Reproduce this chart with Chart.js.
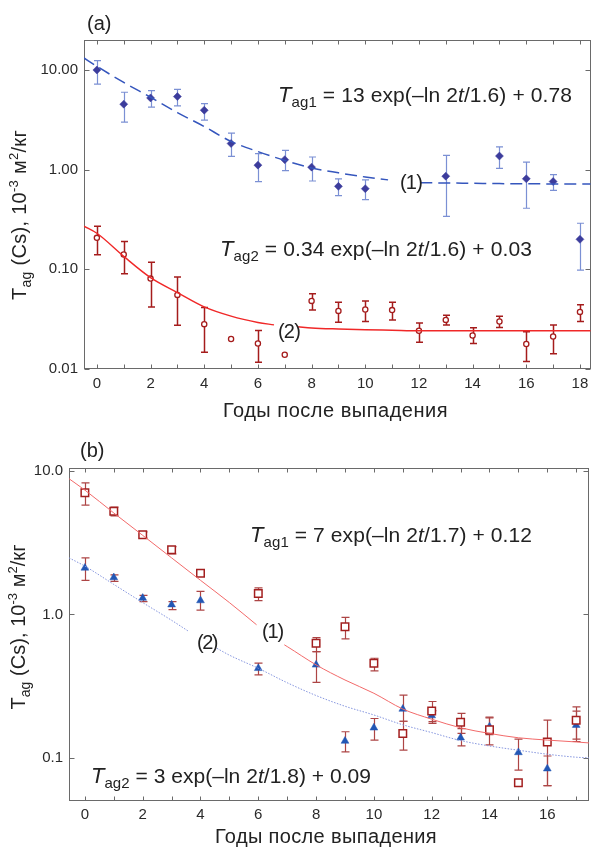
<!DOCTYPE html>
<html><head><meta charset="utf-8">
<script src="https://cdn.jsdelivr.net/npm/chart.js@4.4.0/dist/chart.umd.min.js"></script>
<style>
html,body{margin:0;padding:0;background:#fff;}
#wrap{position:relative;width:596px;height:847px;overflow:hidden;}
canvas{position:absolute;left:0;}
#ca{top:0;} #cb{top:425px;}
</style></head><body>
<div id="wrap"><canvas id="ca" width="596" height="425"></canvas><canvas id="cb" width="596" height="422"></canvas></div>
<script>
// ---------- Panel (a) data ----------
const aTickX = [0,2,4,6,8,10,12,14,16,18];
const aMinorX = [0,1,2,3,4,5,6,7,8,9,10,11,12,13,14,15,16,17,18];
const aTickY = [0.01,0.1,1,10];
const aTickYLabels = ['0.01','0.10','1.00','10.00'];

const a1X  = [0,1,2,3,4,5,6,7,8,9,10,13,15,16,17,18];
const a1Y  = [10.0,4.54,5.25,5.41,3.95,1.83,1.11,1.26,1.06,0.68,0.645,0.86,1.37,0.81,0.76,0.20];
const a1Hi = [12.4,5.98,6.2,6.4,4.6,2.33,1.45,1.56,1.34,0.81,0.79,1.39,1.69,1.19,0.89,0.29];
const a1Lo = [7.2,3.0,4.24,4.37,3.14,1.36,0.76,0.98,0.77,0.55,0.5,0.34,1.03,0.41,0.62,0.098];

const a2X  = [0,1,2,3,4,5,6,7,8,9,10,11,12,13,14,15,16,17,18];
const a2Y  = [0.207,0.141,0.0807,0.0554,0.0282,0.020,0.018,0.0139,0.0482,0.0383,0.0395,0.039,0.0242,0.0311,0.0217,0.030,0.0178,0.0212,0.0374];
const a2Hi = [0.271,0.19,0.118,0.0838,0.0414,null,0.0244,null,0.057,0.0468,0.0482,0.0468,0.029,0.0347,0.0259,0.0339,0.0236,0.0277,0.044];
const a2Lo = [0.14,0.0905,0.042,0.0275,0.0147,null,0.0117,null,0.039,0.0295,0.030,0.0311,0.0186,0.0277,0.018,0.0261,0.0119,0.0142,0.030];

const aFit1X = [-0.48,0,1,2,3,4,5,6,7,8,9,10,10.85,11.5,12.05,13,14,15,16,17,18,18.4];
const aFit1Y = [13.2,10.9,7.5,5.33,3.74,2.71,1.92,1.52,1.24,1.04,0.93,0.845,0.79,null,0.74,0.735,0.73,0.725,0.722,0.72,0.72,0.72];
const aFit2X = [-0.48,0,1,2,3,4,5,6,6.6,7.05,7.5,8,9,10,11,12,13,14,15,16,17,18,18.4];
const aFit2Y = [0.271,0.23,0.135,0.0826,0.0585,0.042,0.0339,0.0293,0.0277,null,0.0265,0.0258,0.0252,0.0248,0.0245,0.0242,0.0242,0.0242,0.0242,0.0242,0.0242,0.0242,0.0242];

// ---------- Panel (b) data ----------
const bTickX = [0,2,4,6,8,10,12,14,16];
const bMinorX = [0,1,2,3,4,5,6,7,8,9,10,11,12,13,14,15,16,17];
const bTickY = [0.1,1,10];
const bTickYLabels = ['0.1','1.0','10.0'];

const b1X  = [0,1,2,3,4,6,8,9,10,11,12,13,14,15,16,17];
const b1Y  = [7.05,5.25,3.59,2.82,1.94,1.40,0.63,0.82,0.457,0.148,0.212,0.177,0.157,0.067,0.129,0.183];
const b1Hi = [8.28,5.6,3.76,2.97,2.02,1.53,0.69,0.953,0.495,0.18,0.247,0.204,0.192,null,0.183,0.227];
const b1Lo = [5.78,4.87,3.4,2.64,1.84,1.25,0.55,0.676,0.404,0.113,0.179,0.148,0.123,null,0.064,0.13];

const b2X  = [0,1,2,3,4,6,8,9,10,11,12,13,14,15,16,17];
const b2Y  = [2.11,1.81,1.30,1.17,1.25,0.421,0.445,0.131,0.162,0.219,0.197,0.138,0.165,0.109,0.084,0.169];
const b2Hi = [2.48,1.89,1.36,1.23,1.45,0.457,0.55,0.152,0.188,0.274,0.213,0.16,0.19,0.135,0.103,0.212];
const b2Lo = [1.73,1.7,1.23,1.08,1.07,0.379,0.336,0.11,0.133,0.18,0.174,0.121,0.145,0.082,0.064,0.135];

const bFit1X = [-0.55,0,1,2,3,4,5,5.94,6.4,6.9,7,8,9,10,11,12,13,14,15,16,17,17.45];
const bFit1Y = [8.84,7.36,5.1,3.56,2.48,1.73,1.21,0.847,null,0.614,0.597,0.445,0.349,0.282,0.219,0.186,0.162,0.148,0.138,0.133,0.129,0.127];
const bFit2X = [-0.55,0,1,2,3,3.6,4.1,4.57,5,6,7,8,9,10,11,12,13,14,15,16,17,17.45];
const bFit2Y = [2.48,2.17,1.62,1.21,0.91,0.76,null,0.58,0.52,0.421,0.334,0.272,0.229,0.199,0.17,0.15,0.132,0.121,0.113,0.106,0.101,0.1];

// ---------- helpers ----------
const FONT = '"Liberation Sans", "Helvetica Neue", Arial, sans-serif';
const zip = (xs, ys) => xs.map((x,i)=>({x:x, y:ys[i]}));

const errPlugin = {
  id:'errbars',
  beforeDatasetsDraw(chart){
    const ctx = chart.ctx, xs = chart.scales.x, ys = chart.scales.y;
    chart.data.datasets.forEach(ds=>{
      if(!ds.errHi) return;
      ctx.save();
      ctx.strokeStyle = ds.errColor; ctx.lineWidth = ds.errWidth;
      ds.data.forEach((p,i)=>{
        const hi = ds.errHi[i], lo = ds.errLo[i];
        if(hi==null || lo==null) return;
        const px = Math.round(xs.getPixelForValue(p.x))+0.5;
        const y1 = ys.getPixelForValue(hi), y2 = ys.getPixelForValue(lo), c = ds.errCap;
        ctx.beginPath();
        ctx.moveTo(px,y1); ctx.lineTo(px,y2);
        ctx.moveTo(px-c,y1); ctx.lineTo(px+c,y1);
        ctx.moveTo(px-c,y2); ctx.lineTo(px+c,y2);
        ctx.stroke();
      });
      ctx.restore();
    });
  }
};

const framePlugin = {
  id:'frame',
  beforeDatasetsDraw(chart, args, opts){
    const ctx = chart.ctx, a = chart.chartArea, xs = chart.scales.x, ys = chart.scales.y;
    ctx.save();
    ctx.strokeStyle = '#6a6a6a'; ctx.lineWidth = 1;
    const L = Math.round(a.left)+0.5, R = Math.round(a.right)-0.5, T = Math.round(a.top)+0.5, B = Math.round(a.bottom)-0.5;
    ctx.strokeRect(L, T, R-L, B-T);
    ctx.beginPath();
    opts.xMinor.forEach(v=>{
      const px = Math.round(xs.getPixelForValue(v))+0.5;
      ctx.moveTo(px,B); ctx.lineTo(px,B-4);
      ctx.moveTo(px,T); ctx.lineTo(px,T+4);
    });
    opts.yMajor.forEach(v=>{
      const py = Math.round(ys.getPixelForValue(v))+0.5;
      ctx.moveTo(L,py); ctx.lineTo(L+5,py);
      ctx.moveTo(R,py); ctx.lineTo(R-5,py);
    });
    ctx.stroke();
    ctx.restore();
  }
};

function fontOf(p){ return (p[2]||'') + ' ' + p[1] + 'px ' + FONT; }
const textPlugin = {
  id:'texts',
  afterDraw(chart, args, opts){
    const ctx = chart.ctx;
    opts.items.forEach(it=>{
      ctx.save();
      ctx.fillStyle = '#222';
      ctx.textBaseline = 'alphabetic';
      ctx.textAlign = 'left';
      try{ ctx.letterSpacing = '0px'; }catch(e){}
      let nat = 0, n = 0;
      const widths = it.parts.map(p=>{ ctx.font = fontOf(p); const w = ctx.measureText(p[0]).width; nat += w; n += p[0].length; return w; });
      const ls = it.w ? (it.w - nat)/n : 0;
      const total = nat + ls*n;
      ctx.translate(it.x, it.y);
      if(it.rot) ctx.rotate(it.rot);
      let x = it.align==='center' ? -total/2 : 0;
      it.parts.forEach((p,i)=>{
        ctx.font = fontOf(p);
        try{ ctx.letterSpacing = ls+'px'; }catch(e){}
        ctx.fillText(p[0], x, p[3]||0);
        x += widths[i] + ls*p[0].length;
      });
      ctx.restore();
    });
  }
};

function makeChart(id, cfg){
  return new Chart(document.getElementById(id), {
    type:'scatter',
    data:{datasets:cfg.datasets},
    plugins:[framePlugin, errPlugin, textPlugin],
    options:{
      responsive:false, animation:false, devicePixelRatio:1,
      layout:{padding:cfg.padding},
      plugins:{legend:{display:false}, tooltip:{enabled:false},
        frame:{xMinor:cfg.xMinor, yMajor:cfg.yTicks},
        texts:{items:cfg.texts}},
      scales:{
        x:{type:'linear', min:cfg.xMin, max:cfg.xMax,
          afterBuildTicks:s=>{ s.ticks = cfg.xTicks.map(v=>({value:v})); },
          afterFit:s=>{ s.height = cfg.xHeight; },
          grid:{display:false, drawTicks:false}, border:{display:false},
          ticks:{font:{family:FONT, size:15}, color:'#2a2a2a', padding:cfg.xPad, maxRotation:0, autoSkip:false,
            callback:v=>String(v)}},
        y:{type:'logarithmic', min:cfg.yMin, max:cfg.yMax,
          afterBuildTicks:s=>{ s.ticks = cfg.yTicks.map(v=>({value:v})); },
          afterFit:s=>{ s.width = cfg.yWidth; },
          grid:{display:false, drawTicks:false}, border:{display:false},
          ticks:{font:{family:FONT, size:15}, color:'#2a2a2a', padding:6, autoSkip:false,
            callback:(v,i)=>cfg.yLabels[i]}}
      }
    }
  });
}

// ---------- Panel (a) ----------
makeChart('ca', {
  padding:{top:40, right:2, left:0, bottom:0},
  xMin:-0.48, xMax:18.4, xTicks:aTickX, xMinor:aMinorX, xHeight:56, xPad:6,
  yMin:0.01, yMax:20, yTicks:aTickY, yLabels:aTickYLabels, yWidth:84,
  datasets:[
    {type:'line', data:zip(aFit1X,aFit1Y), borderColor:'#3556bd', borderWidth:1.5, borderDash:[12,6],
      pointRadius:0, spanGaps:false, cubicInterpolationMode:'monotone', fill:false},
    {type:'line', data:zip(aFit2X,aFit2Y), borderColor:'#f02828', borderWidth:1.4,
      pointRadius:0, spanGaps:false, cubicInterpolationMode:'monotone', fill:false},
    {data:zip(a1X,a1Y), pointStyle:'rectRot', pointRadius:4, backgroundColor:'#3c3c9c', borderColor:'#3c3c9c', borderWidth:0.5,
      errHi:a1Hi, errLo:a1Lo, errColor:'#7b90d4', errWidth:1.2, errCap:3.5},
    {data:zip(a2X,a2Y), pointStyle:'circle', pointRadius:2.6, backgroundColor:'#ffffff', borderColor:'#a51c1c', borderWidth:1.3,
      errHi:a2Hi, errLo:a2Lo, errColor:'#a51c1c', errWidth:1.5, errCap:3.5}
  ],
  texts:[
    {x:87, y:30, parts:[['(a)',20]]},
    {x:278, y:102, w:294, parts:[['T',22,'italic'],['ag1',15,'',5],[' = 13 exp(–ln 2',21],['t',21,'italic'],['/1.6) + 0.78',21]]},
    {x:220, y:256, w:312, parts:[['T',22,'italic'],['ag2',15,'',5],[' = 0.34 exp(–ln 2',21],['t',21,'italic'],['/1.6) + 0.03',21]]},
    {x:400, y:189, w:22, parts:[['(1)',20]]},
    {x:278, y:338, w:22, parts:[['(2)',20]]},
    {x:335.5, y:417, align:'center', w:225, parts:[['Годы после выпадения',20]]},
    {x:26, y:215, rot:-Math.PI/2, align:'center', w:170,
      parts:[['T',20],['ag',14,'',5],[' (Cs), 10',20],['-3',13,'',-8],[' м',20],['2',13,'',-8],['/кг',20]]}
  ]
});

// ---------- Panel (b) ----------
makeChart('cb', {
  padding:{top:43, right:1, left:0, bottom:0},
  xMin:-0.55, xMax:17.45, xTicks:bTickX, xMinor:bMinorX, xHeight:46, xPad:5,
  yMin:0.05, yMax:10.5, yTicks:bTickY, yLabels:bTickYLabels, yWidth:69,
  datasets:[
    {type:'line', data:zip(bFit1X,bFit1Y), borderColor:'#f26a6a', borderWidth:1,
      pointRadius:0, spanGaps:false, cubicInterpolationMode:'monotone', fill:false},
    {type:'line', data:zip(bFit2X,bFit2Y), borderColor:'#8595de', borderWidth:1, borderDash:[1.5,1.5],
      pointRadius:0, spanGaps:false, cubicInterpolationMode:'monotone', fill:false},
    {data:zip(b1X,b1Y), pointStyle:'rect', pointRadius:5.3, backgroundColor:'#ffffff', borderColor:'#a31f1f', borderWidth:1.5,
      errHi:b1Hi, errLo:b1Lo, errColor:'#ad4545', errWidth:1.2, errCap:4},
    {data:zip(b2X,b2Y), pointStyle:'triangle', pointRadius:4.5, backgroundColor:'#2257b5', borderColor:'#2257b5', borderWidth:0.5,
      errHi:b2Hi, errLo:b2Lo, errColor:'#ad4545', errWidth:1.2, errCap:4}
  ],
  texts:[
    {x:80, y:32, parts:[['(b)',20]]},
    {x:250, y:117, w:282, parts:[['T',22,'italic'],['ag1',15,'',5],[' = 7 exp(–ln 2',21],['t',21,'italic'],['/1.7) + 0.12',21]]},
    {x:91, y:358, w:280, parts:[['T',22,'italic'],['ag2',15,'',5],[' = 3 exp(–ln 2',21],['t',21,'italic'],['/1.8) + 0.09',21]]},
    {x:262, y:213, w:21, parts:[['(1)',20]]},
    {x:197, y:224, w:20, parts:[['(2)',20]]},
    {x:326, y:418, align:'center', w:222, parts:[['Годы после выпадения',20]]},
    {x:25, y:202, rot:-Math.PI/2, align:'center', w:165,
      parts:[['T',20],['ag',14,'',5],[' (Cs), 10',20],['-3',13,'',-8],[' м',20],['2',13,'',-8],['/кг',20]]}
  ]
});
</script>
</body></html>
